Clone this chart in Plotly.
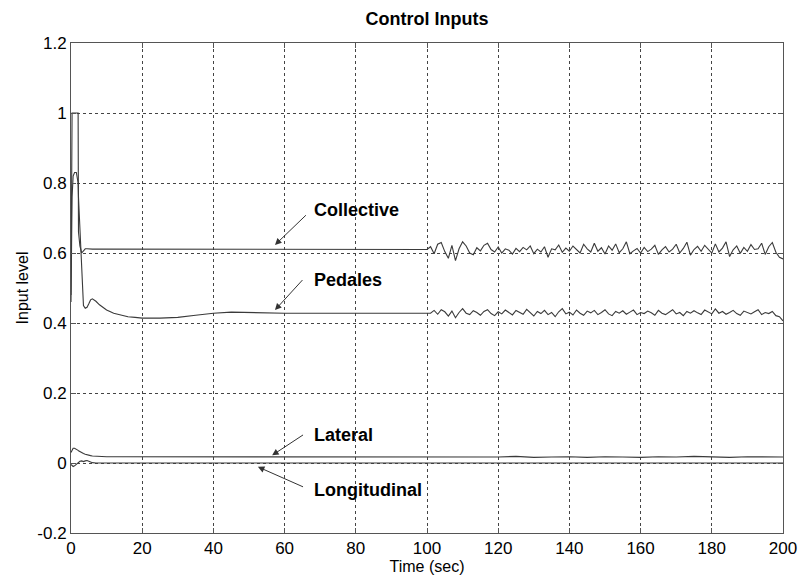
import numpy as np
import plotly.graph_objects as go

# ---- data ----
# transient part (0..100 s)
t_trans = [0, 0.3, 0.6, 1.0, 1.5, 2.0, 2.1, 2.5, 3.0, 3.5, 4.0, 4.5, 5.0, 5.5, 6.0, 7.0, 8.0,
           9.0, 10, 12, 14, 16, 18, 20, 25, 30, 35, 40, 45, 50, 55, 60, 70, 80, 90, 100]
coll_trans = [0.48, 1.00, 1.00, 1.00, 1.00, 1.00, 0.66, 0.62, 0.600, 0.606, 0.612, 0.612, 0.611,
              0.611, 0.611, 0.611, 0.611, 0.611, 0.611, 0.611, 0.611, 0.611, 0.611, 0.611, 0.611,
              0.611, 0.611, 0.611, 0.611, 0.610, 0.610, 0.610, 0.610, 0.610, 0.610, 0.610]
ped_trans = [0.46, 0.76, 0.82, 0.83, 0.83, 0.80, 0.76, 0.66, 0.53, 0.45, 0.442, 0.445, 0.455,
             0.466, 0.469, 0.462, 0.452, 0.444, 0.437, 0.428, 0.422, 0.418, 0.416, 0.414, 0.414,
             0.416, 0.422, 0.428, 0.431, 0.430, 0.428, 0.428, 0.428, 0.428, 0.428, 0.428]
lat_trans = [0.030, 0.038, 0.042, 0.042, 0.040, 0.036, 0.035, 0.032, 0.029, 0.027, 0.025, 0.023,
             0.022, 0.021, 0.020, 0.019, 0.019, 0.018, 0.018, 0.018, 0.018, 0.018, 0.018, 0.018,
             0.018, 0.018, 0.018, 0.018, 0.018, 0.018, 0.018, 0.017, 0.017, 0.017, 0.017, 0.017]
lon_trans = [-0.004, -0.008, -0.010, -0.008, -0.004, 0.000, 0.002, 0.005, 0.006, 0.004, 0.006,
             0.007, 0.005, 0.002, 0.001, 0.000, 0.000, 0.000, 0.000, 0.000, 0.000, 0.000, 0.000,
             0.000, 0.000, 0.000, 0.000, 0.000, 0.000, 0.000, 0.000, 0.000, 0.000, 0.000, 0.000, 0.000]

# noisy part (100..200 s, one sample per second)
coll_noise = [0.610, 0.618, 0.598, 0.625, 0.630, 0.604, 0.585, 0.622, 0.578, 0.612, 0.632, 0.620,
              0.600, 0.595, 0.615, 0.606, 0.622, 0.628, 0.610, 0.603, 0.617, 0.600, 0.612, 0.608,
              0.597, 0.613, 0.604, 0.616, 0.609, 0.620, 0.598, 0.611, 0.603, 0.618, 0.588, 0.612,
              0.609, 0.623, 0.602, 0.614, 0.605, 0.620, 0.611, 0.600, 0.625, 0.612, 0.603, 0.628,
              0.605, 0.615, 0.597, 0.620, 0.608, 0.626, 0.601, 0.612, 0.632, 0.598, 0.606, 0.613,
              0.600, 0.616, 0.604, 0.611, 0.622, 0.596, 0.609, 0.618, 0.603, 0.611, 0.625, 0.600,
              0.613, 0.631, 0.594, 0.610, 0.619, 0.605, 0.622, 0.612, 0.600, 0.626, 0.603, 0.614,
              0.632, 0.590, 0.609, 0.620, 0.599, 0.616, 0.605, 0.624, 0.610, 0.612, 0.628, 0.596,
              0.618, 0.630, 0.602, 0.588, 0.583]
ped_noise = [0.430, 0.428, 0.436, 0.425, 0.438, 0.432, 0.420, 0.434, 0.415, 0.430, 0.441, 0.428,
             0.424, 0.435, 0.430, 0.422, 0.433, 0.438, 0.427, 0.421, 0.432, 0.426, 0.437, 0.429,
             0.423, 0.436, 0.430, 0.425, 0.439, 0.428, 0.420, 0.433, 0.427, 0.436, 0.424, 0.430,
             0.418, 0.432, 0.441, 0.426, 0.431, 0.423, 0.437, 0.428, 0.422, 0.434, 0.429, 0.436,
             0.424, 0.430, 0.438, 0.426, 0.421, 0.433, 0.428, 0.435, 0.425, 0.431, 0.437, 0.424,
             0.430, 0.427, 0.434, 0.429, 0.422, 0.436, 0.428, 0.424, 0.432, 0.438, 0.426, 0.430,
             0.421, 0.433, 0.428, 0.435, 0.429, 0.424, 0.437, 0.431, 0.426, 0.440, 0.428, 0.433,
             0.425, 0.430, 0.436, 0.427, 0.422, 0.434, 0.429, 0.426, 0.432, 0.438, 0.424, 0.430,
             0.427, 0.433, 0.421, 0.418, 0.406]
lat_noise = [0.017, 0.018, 0.016, 0.018, 0.017, 0.019, 0.016, 0.017, 0.018, 0.016, 0.018,
             0.017, 0.016, 0.018, 0.017, 0.019, 0.017, 0.016, 0.018, 0.017, 0.017]
lon_noise = [0.000, 0.001, -0.001, 0.000, 0.001, 0.000, -0.001, 0.001, 0.000, -0.001, 0.000,
             0.001, 0.000, -0.001, 0.000, 0.001, 0.000, -0.001, 0.001, 0.000, 0.000]

y_ticks = [1.2, 1.0, 0.8, 0.6, 0.4, 0.2, 0.0, -0.2]
y_tick_labels = ["1.2", "1", "0.8", "0.6", "0.4", "0.2", "0", "-0.2"]
x_ticks = [0, 20, 40, 60, 80, 100, 120, 140, 160, 180, 200]

labels = ["Collective", "Pedales", "Lateral", "Longitudinal"]
# (head x, head y, tail x, tail y, text x, text y)
label_pos = [(57.3, 0.623, 66.4, 0.712, 67.6, 0.724),
             (57.3, 0.437, 65.4, 0.527, 67.6, 0.523),
             (56.5, 0.022, 65.6, 0.083, 67.6, 0.080),
             (52.5, -0.011, 65.6, -0.070, 67.6, -0.077)]

# ---- build ----
def series(trans, noise):
    tn = list(np.linspace(100, 200, len(noise)))
    return t_trans[:-1] + tn, trans[:-1] + noise

fig = go.Figure()
line_color = "#3a3a3a"
for tr, nz in [(coll_trans, coll_noise), (ped_trans, ped_noise),
               (lat_trans, lat_noise), (lon_trans, lon_noise)]:
    x, y = series(tr, nz)
    fig.add_trace(go.Scatter(x=x, y=y, mode="lines",
                             line=dict(color=line_color, width=1.1),
                             showlegend=False, hoverinfo="skip"))

font_fam = "Liberation Sans, Arial, sans-serif"
for lab, (hx, hy, tx, ty, lx, ly) in zip(labels, label_pos):
    fig.add_annotation(x=hx, y=hy, ax=tx, ay=ty, axref="x", ayref="y", xref="x", yref="y",
                       text="", showarrow=True, arrowhead=2, arrowsize=1.3, arrowwidth=1,
                       arrowcolor="#333333")
    fig.add_annotation(x=lx, y=ly, xref="x", yref="y", text="<b>" + lab + "</b>",
                       showarrow=False, xanchor="left", yanchor="middle",
                       font=dict(family=font_fam, size=18, color="black"))

fig.update_layout(
    width=802, height=580,
    margin=dict(l=71, r=19, t=43, b=47),
    paper_bgcolor="white", plot_bgcolor="white",
    title=dict(text="<b>Control Inputs</b>", x=0.5, xanchor="center", y=0.968, yanchor="middle",
               xref="paper", font=dict(family=font_fam, size=18, color="black")),
    font=dict(family=font_fam, size=17, color="black"),
)
fig.update_xaxes(range=[0, 200], tickvals=x_ticks, showgrid=True, gridcolor="#444444",
                 griddash="dot", gridwidth=1, zeroline=False, showline=True, linecolor="#555555",
                 linewidth=1, mirror="ticks", ticks="inside", ticklen=5, tickcolor="#555555",
                 automargin=False,
                 title=dict(text="Time (sec)", standoff=0, font=dict(size=16)),
                 tickfont=dict(size=17))
fig.update_yaxes(range=[-0.2, 1.2], tickvals=y_ticks, ticktext=y_tick_labels, showgrid=True,
                 gridcolor="#444444", griddash="dot", gridwidth=1, zeroline=False, showline=True,
                 linecolor="#555555", linewidth=1, mirror="ticks", ticks="inside", ticklen=5,
                 tickcolor="#555555", automargin=False,
                 title=dict(text="Input level", standoff=4, font=dict(size=16)),
                 tickfont=dict(size=17))

fig.write_html("out.html")
